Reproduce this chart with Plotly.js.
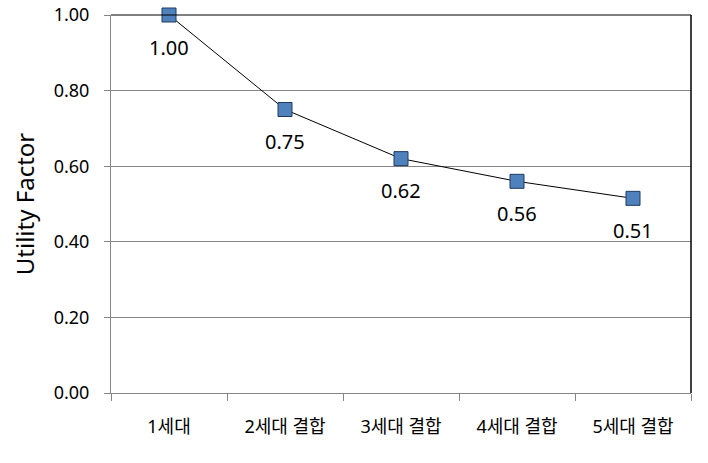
<!DOCTYPE html>
<html><head><meta charset="utf-8">
<script src="https://cdn.plot.ly/plotly-3.0.1.min.js"></script>
<style>html,body{margin:0;padding:0;background:#fff}</style>
</head><body><div id="chart" style="width:708px;height:463px"></div>
<script>
const categories = ["1세대", "2세대 결합", "3세대 결합", "4세대 결합", "5세대 결합"];
const utilityFactor = [1.00, 0.75, 0.62, 0.56, 0.515];
const pointLabels = ["1.00", "0.75", "0.62", "0.56", "0.51"];
const yTickValues = [0, 0.2, 0.4, 0.6, 0.8, 1.0];
const yTickLabels = ["0.00", "0.20", "0.40", "0.60", "0.80", "1.00"];

const font = "Noto Sans, Noto Sans CJK KR, sans-serif";

const trace = {
  x: categories, y: utilityFactor, type: "scatter", mode: "lines+markers",
  line: {color: "#000", width: 1},
  marker: {symbol: "square", size: 14, color: "#4F81BD", line: {color: "#1F3A5F", width: 1}},
  hoverinfo: "skip", cliponaxis: false
};

const annotations = categories.map((c, i) => ({
  x: c, y: utilityFactor[i], text: pointLabels[i], showarrow: false,
  yshift: -32, font: {family: font, size: 20, color: "#000"}
}));

const layout = {
  width: 708, height: 463,
  margin: {l: 111, r: 17, t: 15, b: 70},
  paper_bgcolor: "#fff", plot_bgcolor: "#fff",
  showlegend: false,
  annotations: annotations,
  xaxis: {
    type: "category", tickson: "boundaries", ticks: "outside", ticklen: 7,
    tickcolor: "#868686", showline: true, linecolor: "#868686", linewidth: 1,
    showgrid: false, zeroline: false,
    tickfont: {family: font, size: 18, color: "#000"}, ticklabelstandoff: 17,
    range: [-0.5, 4.5], mirror: false
  },
  yaxis: {
    range: [0, 1], tickvals: yTickValues, ticktext: yTickLabels,
    ticks: "outside", ticklen: 6, tickcolor: "#868686",
    showline: true, linecolor: "#868686", linewidth: 1,
    showgrid: true, gridcolor: "#868686", gridwidth: 1, zeroline: false,
    tickfont: {family: font, size: 18, color: "#000"}, ticklabelstandoff: 11,
    title: {text: "Utility Factor", font: {family: font, size: 24, color: "#000"}, standoff: 12}
  },
  shapes: [
    {type: "line", xref: "paper", yref: "paper", x0: 0, x1: 1, y0: 1, y1: 1, line: {color: "#000", width: 1}},
    {type: "line", xref: "paper", yref: "paper", x0: 1, x1: 1, y0: 0, y1: 1, line: {color: "#000", width: 1.5}}
  ]
};

Plotly.newPlot("chart", [trace], layout, {staticPlot: true, displayModeBar: false});
</script></body></html>
